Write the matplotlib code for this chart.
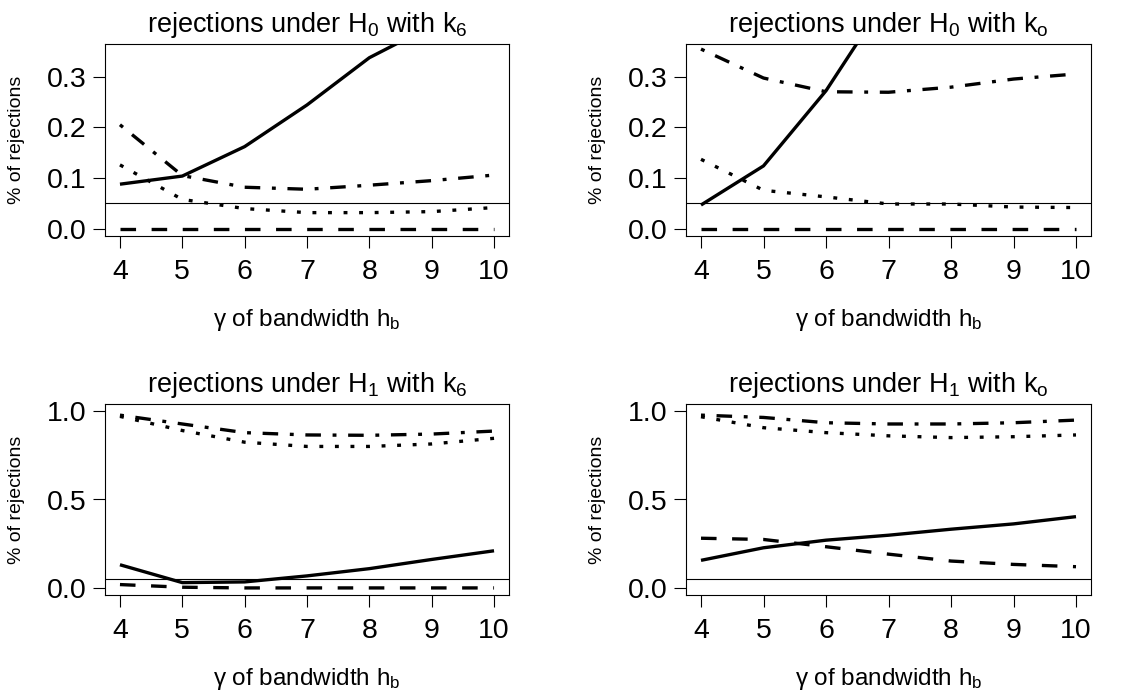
import numpy as np
import matplotlib.pyplot as plt

plt.rcParams['font.family'] = ['Liberation Sans', 'DejaVu Sans']
plt.rcParams['mathtext.fontset'] = 'custom'
plt.rcParams['mathtext.rm'] = 'Liberation Sans'
plt.rcParams['mathtext.it'] = 'Liberation Sans'
plt.rcParams['lines.scale_dashes'] = False

gamma = [4, 5, 6, 7, 8, 9, 10]

# rejections under H0 with k6
h0_k6_solid = [0.088, 0.104, 0.162, 0.244, 0.337, 0.40, 0.48]
h0_k6_dashed = [0.0, 0.0, 0.0, 0.0, 0.0, 0.0, 0.0]
h0_k6_dotted = [0.126, 0.058, 0.040, 0.032, 0.032, 0.034, 0.042]
h0_k6_dotdash = [0.205, 0.105, 0.082, 0.078, 0.086, 0.095, 0.106]

# rejections under H0 with ko
h0_ko_solid = [0.047, 0.124, 0.272, 0.46, 0.60, 0.70, 0.80]
h0_ko_dashed = [0.0, 0.0, 0.0, 0.0, 0.0, 0.0, 0.0]
h0_ko_dotted = [0.137, 0.076, 0.063, 0.049, 0.049, 0.043, 0.042]
h0_ko_dotdash = [0.354, 0.297, 0.270, 0.269, 0.279, 0.295, 0.305]

# rejections under H1 with k6
h1_k6_solid = [0.131, 0.030, 0.034, 0.068, 0.109, 0.161, 0.210]
h1_k6_dashed = [0.019, 0.004, 0.0, 0.0, 0.0, 0.0, 0.0]
h1_k6_dotted = [0.970, 0.890, 0.824, 0.800, 0.800, 0.814, 0.846]
h1_k6_dotdash = [0.977, 0.927, 0.878, 0.865, 0.863, 0.870, 0.887]

# rejections under H1 with ko
h1_ko_solid = [0.156, 0.227, 0.270, 0.298, 0.332, 0.362, 0.403]
h1_ko_dashed = [0.281, 0.274, 0.233, 0.191, 0.152, 0.133, 0.120]
h1_ko_dotted = [0.968, 0.906, 0.878, 0.860, 0.850, 0.855, 0.865]
h1_ko_dotdash = [0.977, 0.964, 0.934, 0.927, 0.927, 0.934, 0.949]

level = 0.05

panels = [
    (r'rejections under H$_0$ with k$_6$', h0_k6_solid, h0_k6_dashed, h0_k6_dotted, h0_k6_dotdash,
     (0, 0.35), [0.0, 0.1, 0.2, 0.3], ['0.0', '0.1', '0.2', '0.3']),
    (r'rejections under H$_0$ with k$_\mathrm{o}$', h0_ko_solid, h0_ko_dashed, h0_ko_dotted, h0_ko_dotdash,
     (0, 0.35), [0.0, 0.1, 0.2, 0.3], ['0.0', '0.1', '0.2', '0.3']),
    (r'rejections under H$_1$ with k$_6$', h1_k6_solid, h1_k6_dashed, h1_k6_dotted, h1_k6_dotdash,
     (0, 1.0), [0.0, 0.5, 1.0], ['0.0', '0.5', '1.0']),
    (r'rejections under H$_1$ with k$_\mathrm{o}$', h1_ko_solid, h1_ko_dashed, h1_ko_dotted, h1_ko_dotdash,
     (0, 1.0), [0.0, 0.5, 1.0], ['0.0', '0.5', '1.0']),
]

# axes boxes in figure pixels (left, top, right, bottom)
W, H = 1146, 692
boxes = [(105, 44, 509, 236), (686, 44, 1091, 236),
         (105, 404, 509, 595), (686, 404, 1091, 595)]

fig = plt.figure(figsize=(W / 100, H / 100), dpi=100)

u = 2.8  # dash unit in points
lw = 2.4

for (title, solid, dashed, dotted, dotdash, ylim, yticks, ylabels), (l, t, r, b) in zip(panels, boxes):
    ax = fig.add_axes([l / W, 1 - b / H, (r - l) / W, (b - t) / H])
    x = np.array(gamma)
    ax.plot(x, solid, color='black', lw=lw, solid_capstyle='butt')
    ax.plot(x, dashed, color='black', lw=lw, dashes=(4 * u, 4 * u), dash_capstyle='butt')
    ax.plot(x, dotted, color='black', lw=lw, dashes=(u, 3 * u), dash_capstyle='butt')
    ax.plot(x, dotdash, color='black', lw=lw, dashes=(u, 3 * u, 4 * u, 3 * u), dash_capstyle='butt')
    ax.axhline(level, color='black', lw=0.8)

    span = ylim[1] - ylim[0]
    ax.set_ylim(ylim[0] - 0.04 * span, ylim[1] + 0.04 * span)
    ax.set_xlim(4 - 0.24, 10 + 0.24)
    ax.set_xticks(gamma)
    ax.set_xticklabels([str(g) for g in gamma])
    ax.set_yticks(yticks)
    ax.set_yticklabels(ylabels)
    ax.tick_params(direction='out', length=8.5, width=0.8, labelsize=20.5)
    ax.tick_params(axis='x', pad=8)
    ax.tick_params(axis='y', pad=5)
    for s in ax.spines.values():
        s.set_linewidth(0.8)

    ax.set_title(title, fontsize=19.5, pad=9)
    ax.text(0.5, -84 / (b - t), r'γ of bandwidth h$_\mathrm{b}$', transform=ax.transAxes,
            ha='center', va='center', fontsize=17.5)
    ax.text(-88 / (r - l), 0.5, '% of rejections', transform=ax.transAxes,
            ha='center', va='center', rotation=90, fontsize=14)

fig.savefig('out.png', dpi=100)
